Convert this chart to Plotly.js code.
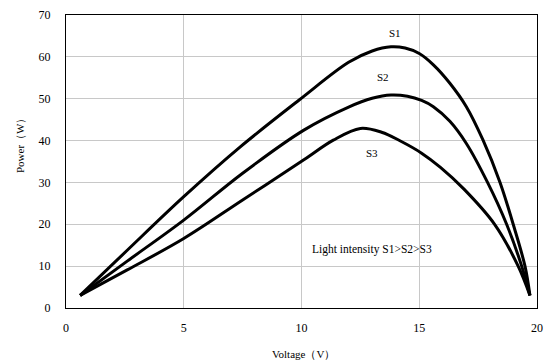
<!DOCTYPE html>
<html>
<head>
<meta charset="utf-8">
<script src="https://cdn.plot.ly/plotly-3.0.1.min.js"></script>
<style>html,body{margin:0;padding:0;background:#fff;}#chart{width:545px;height:361px;}</style>
</head>
<body>
<div id="chart"></div>
<script>
const s1Voltage = [0.6, 2.6, 5.0, 7.4, 9.9, 12.0, 13.0, 13.8, 14.4, 15.0, 15.6, 16.3, 17.0, 17.7, 18.43, 18.99, 19.49, 19.7];
const s1Power   = [3, 13.8, 26.6, 38.5, 49.7, 58.7, 61.4, 62.4, 62.1, 60.8, 58.1, 53.7, 48.1, 40.2, 30, 20, 10, 3];
const s2Voltage = [0.6, 2.6, 5.0, 7.5, 10.1, 12.0, 13.0, 13.8, 14.5, 15.1, 15.6, 16.3, 17.0, 17.9, 18.71, 19.35, 19.7];
const s2Power   = [3, 11.2, 21.0, 32.2, 42.5, 48.0, 50.1, 50.9, 50.6, 49.6, 48.1, 44.6, 39.3, 30, 20, 10, 3];
const s3Voltage = [0.6, 2.6, 5.0, 7.5, 10.1, 11.35, 12.5, 13.4, 14.2, 15.1, 15.9, 16.9, 18.2, 19.2, 19.7];
const s3Power   = [3, 9.1, 16.6, 25.8, 35.4, 40.1, 42.9, 42.0, 39.9, 37.0, 33.6, 28.4, 20, 10, 3];
const seriesNames = ["S1", "S2", "S3"];
const labelPos = [[13.97, 65.8], [13.46, 55.3], [12.99, 37.0]];
const noteText = "Light intensity S1>S2>S3";
const notePos = [12.98, 13.9];
const xTicks = [0, 5, 10, 15, 20];
const yTicks = [0, 10, 20, 30, 40, 50, 60, 70];

const serif = "Liberation Serif, Times New Roman, serif";
const lineStyle = {color: "#000", width: 3, shape: "spline", smoothing: 1};
const xs = [s1Voltage, s2Voltage, s3Voltage];
const ys = [s1Power, s2Power, s3Power];
const traces = xs.map((x, i) => ({
  x: x, y: ys[i], type: "scatter", mode: "lines", name: seriesNames[i],
  line: lineStyle, showlegend: false, hoverinfo: "skip"
}));

const W = 545, H = 361, L = 66, R = 8, T = 15, B = 53;
const pw = W - L - R, ph = H - T - B;
const txtFont = {family: serif, size: 11, color: "#000"};

const annotations = seriesNames.map((n, i) => ({
  x: labelPos[i][0], y: labelPos[i][1], xref: "x", yref: "y", text: n,
  showarrow: false, font: txtFont
}));
annotations.push({x: notePos[0], y: notePos[1], xref: "x", yref: "y", text: noteText,
  showarrow: false, font: {family: serif, size: 11.5, color: "#000"}});
annotations.push({x: (303 - L) / pw, y: (H - B - 354) / ph, xref: "paper", yref: "paper",
  xanchor: "center", yanchor: "middle", text: "Voltage（V）",
  showarrow: false, font: txtFont});
annotations.push({x: (20 - L) / pw, y: (H - B - 143) / ph, xref: "paper", yref: "paper",
  xanchor: "center", yanchor: "middle", text: "Power（W）", textangle: -90,
  showarrow: false, font: txtFont});

const layout = {
  width: W, height: H,
  margin: {l: L, r: R, t: T, b: B},
  paper_bgcolor: "#fff", plot_bgcolor: "#fff",
  font: {family: serif, size: 12, color: "#000"},
  xaxis: {
    range: [0, 20], tickvals: xTicks, ticktext: xTicks.map(String),
    showgrid: true, gridcolor: "#c8c8c8", gridwidth: 1,
    zeroline: false, showline: true, linecolor: "#000", linewidth: 1, mirror: true,
    ticks: "", ticklabelstandoff: 9, tickfont: {family: serif, size: 12, color: "#000"}
  },
  yaxis: {
    range: [0, 70], tickvals: yTicks, ticktext: yTicks.map(String),
    showgrid: true, gridcolor: "#c8c8c8", gridwidth: 1,
    zeroline: false, showline: true, linecolor: "#000", linewidth: 1, mirror: true,
    ticks: "", ticklabelstandoff: 12, tickfont: {family: serif, size: 12, color: "#000"}
  },
  annotations: annotations
};
Plotly.newPlot("chart", traces, layout, {staticPlot: true, displayModeBar: false});
</script>
</body>
</html>
